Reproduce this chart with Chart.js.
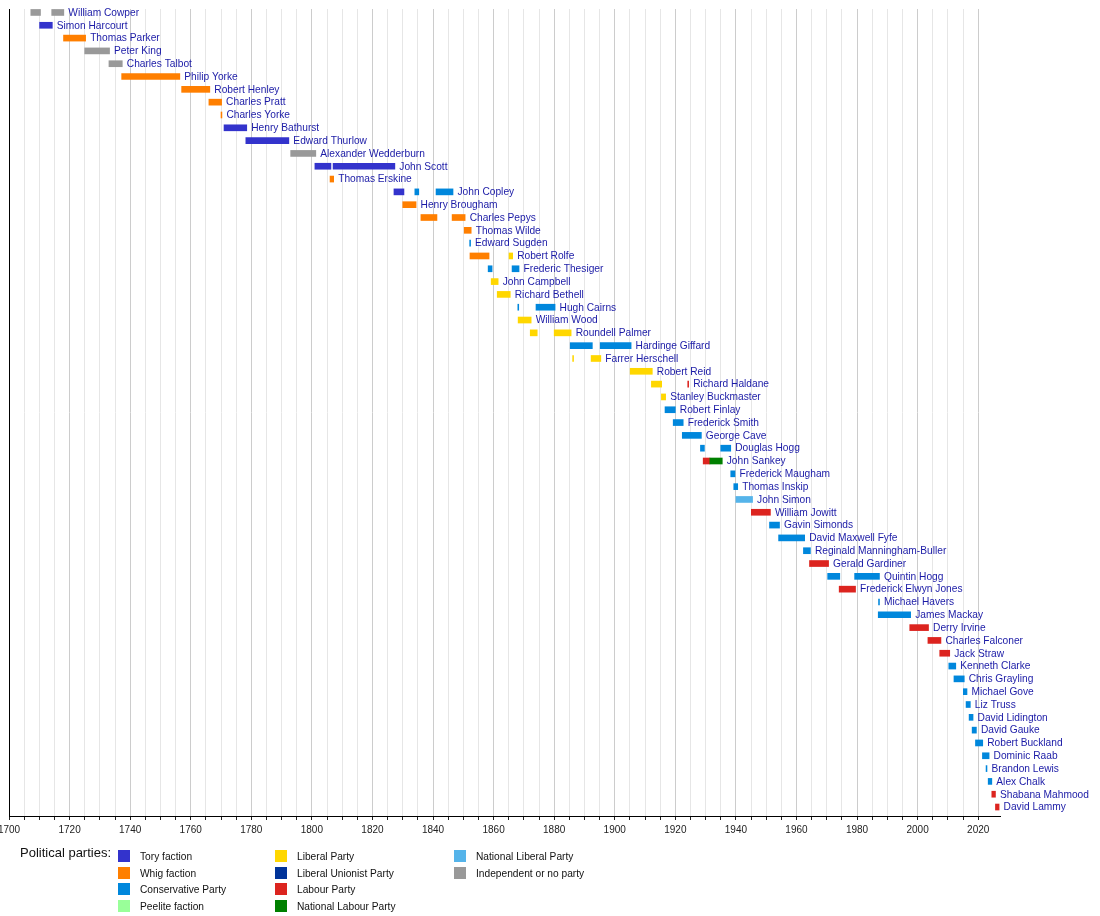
<!DOCTYPE html>
<html>
<head>
<meta charset="utf-8">
<script src="https://cdn.jsdelivr.net/npm/chart.js@4.4.1/dist/chart.umd.min.js"></script>
<style>
  body { margin: 0; background: #fff; }
  #wrap { position: relative; width: 1100px; height: 916px; font-family: "Liberation Sans", Arial, sans-serif; }
  #chart { position: absolute; left: 0; top: 0; }
  .lg-title { position: absolute; left: 20px; top: 845px; font-size: 13px; color: #111; }
  .lg-item { position: absolute; font-size: 10.2px; color: #111; height: 12px; line-height: 12px; white-space: nowrap; }
  .lg-item span { position: absolute; left: 0; top: 0; width: 12px; height: 12px; }
  .lg-item b { font-weight: normal; position: absolute; left: 22px; top: 1px; }
</style>
</head>
<body>
<div id="wrap">
  <canvas id="chart" width="1100" height="916"></canvas>
  <div class="lg-title">Political parties:</div>
  <div id="legend"></div>
</div>
<script>
// 이름 (위에서 아래로)
const names = [
  "William Cowper", "Simon Harcourt", "Thomas Parker", "Peter King", "Charles Talbot",
  "Philip Yorke", "Robert Henley", "Charles Pratt", "Charles Yorke", "Henry Bathurst",
  "Edward Thurlow", "Alexander Wedderburn", "John Scott", "Thomas Erskine", "John Copley",
  "Henry Brougham", "Charles Pepys", "Thomas Wilde", "Edward Sugden", "Robert Rolfe",
  "Frederic Thesiger", "John Campbell", "Richard Bethell", "Hugh Cairns", "William Wood",
  "Roundell Palmer", "Hardinge Giffard", "Farrer Herschell", "Robert Reid", "Richard Haldane",
  "Stanley Buckmaster", "Robert Finlay", "Frederick Smith", "George Cave", "Douglas Hogg",
  "John Sankey", "Frederick Maugham", "Thomas Inskip", "John Simon", "William Jowitt",
  "Gavin Simonds", "David Maxwell Fyfe", "Reginald Manningham-Buller", "Gerald Gardiner", "Quintin Hogg",
  "Frederick Elwyn Jones", "Michael Havers", "James Mackay", "Derry Irvine", "Charles Falconer",
  "Jack Straw", "Kenneth Clarke", "Chris Grayling", "Michael Gove", "Liz Truss",
  "David Lidington", "David Gauke", "Robert Buckland", "Dominic Raab", "Brandon Lewis",
  "Alex Chalk", "Shabana Mahmood", "David Lammy"
];

// 재임 기간 [시작, 끝, 정당] (행마다)
const terms = [
  [[1707.2, 1710.4, "I"], [1714.1, 1718.1, "I"]],
  [[1710.1, 1714.3, "T"]],
  [[1718.0, 1725.3, "W"]],
  [[1725.0, 1733.2, "I"]],
  [[1733.0, 1737.4, "I"]],
  [[1737.2, 1756.4, "W"]],
  [[1757.0, 1766.3, "W"]],
  [[1766.0, 1770.2, "W"]],
  [[1770.0, 1770.3, "W"]],
  [[1771.0, 1778.5, "T"]],
  [[1778.2, 1792.4, "T"]],
  [[1793.0, 1801.3, "I"]],
  [[1801.0, 1806.3, "T"], [1807.0, 1827.4, "T"]],
  [[1806.0, 1807.2, "W"]],
  [[1827.1, 1830.4, "T"], [1834.0, 1835.3, "C"], [1841.0, 1846.6, "C"]],
  [[1830.0, 1834.4, "W"]],
  [[1836.0, 1841.3, "W"], [1846.3, 1850.6, "W"]],
  [[1850.3, 1852.6, "W"]],
  [[1852.1, 1852.4, "C"]],
  [[1852.2, 1858.5, "W"], [1865.1, 1866.3, "L"]],
  [[1858.2, 1859.5, "C"], [1866.1, 1868.4, "C"]],
  [[1859.2, 1861.5, "L"]],
  [[1861.2, 1865.5, "L"]],
  [[1868.0, 1868.3, "C"], [1874.0, 1880.3, "C"]],
  [[1868.1, 1872.4, "L"]],
  [[1872.1, 1874.4, "L"], [1880.0, 1885.6, "L"]],
  [[1885.3, 1892.6, "C"], [1895.2, 1905.4, "C"]],
  [[1886.1, 1886.4, "L"], [1892.2, 1895.4, "L"]],
  [[1905.1, 1912.4, "L"]],
  [[1912.1, 1915.5, "L"], [1924.1, 1924.4, "Lab"]],
  [[1915.4, 1916.8, "L"]],
  [[1916.6, 1920.0, "C"]],
  [[1919.3, 1922.6, "C"]],
  [[1922.3, 1928.6, "C"]],
  [[1928.3, 1929.6, "C"], [1935.0, 1938.3, "C"]],
  [[1929.2, 1931.4, "Lab"], [1931.4, 1935.5, "NLab"]],
  [[1938.3, 1939.7, "C"]],
  [[1939.3, 1940.6, "C"]],
  [[1940.0, 1945.5, "NLib"]],
  [[1945.1, 1951.4, "Lab"]],
  [[1951.1, 1954.4, "C"]],
  [[1954.1, 1962.7, "C"]],
  [[1962.3, 1964.6, "C"]],
  [[1964.3, 1970.6, "Lab"]],
  [[1970.3, 1974.3, "C"], [1979.2, 1987.4, "C"]],
  [[1974.1, 1979.5, "Lab"]],
  [[1987.1, 1987.4, "C"]],
  [[1987.0, 1997.7, "C"]],
  [[1997.4, 2003.6, "Lab"]],
  [[2003.4, 2007.7, "Lab"]],
  [[2007.3, 2010.6, "Lab"]],
  [[2010.3, 2012.6, "C"]],
  [[2012.0, 2015.4, "C"]],
  [[2015.1, 2016.3, "C"]],
  [[2016.0, 2017.4, "C"]],
  [[2017.0, 2018.3, "C"]],
  [[2018.0, 2019.4, "C"]],
  [[2019.1, 2021.5, "C"]],
  [[2021.4, 2023.6, "C"]],
  [[2022.6, 2022.9, "C"]],
  [[2023.3, 2024.5, "C"]],
  [[2024.5, 2025.7, "Lab"]],
  [[2025.7, 2026.9, "Lab"]]
];

// 정당 / 색상
const partyCodes = ["T", "W", "C", "P", "L", "LU", "Lab", "NLab", "NLib", "I"];
const partyNames = ["Tory faction", "Whig faction", "Conservative Party", "Peelite faction",
  "Liberal Party", "Liberal Unionist Party", "Labour Party", "National Labour Party",
  "National Liberal Party", "Independent or no party"];
const partyColors = ["#3333CC", "#FF7F00", "#0087DC", "#99FF99",
  "#FFD700", "#003399", "#DC241F", "#008000", "#55B4EA", "#999999"];

// x축 범위
const yearMin = 1700;
const yearMax = 2027.2;

const colorOf = code => partyColors[partyCodes.indexOf(code)];

// 막대 데이터
const points = [];
const colors = [];
terms.forEach((row, i) => {
  row.forEach(t => {
    points.push({ x: [t[0], t[1]], y: i });
    colors.push(colorOf(t[2]));
  });
});

const labelFont = '10.2px "Liberation Sans", Arial, sans-serif';

// 이름 라벨 플러그인
const nameLabels = {
  id: "nameLabels",
  afterDatasetsDraw(chart) {
    const ctx = chart.ctx;
    const xs = chart.scales.x;
    const ys = chart.scales.y;
    ctx.save();
    ctx.font = labelFont;
    ctx.fillStyle = "#1a1aa6";
    ctx.textBaseline = "middle";
    ctx.textAlign = "left";
    terms.forEach((row, i) => {
      const end = Math.max(...row.map(t => t[1]));
      ctx.fillText(names[i], xs.getPixelForValue(end) + 4.5, ys.getPixelForValue(i) + 0.5);
    });
    ctx.restore();
  }
};

const config = {
  type: "bar",
  data: {
    datasets: [{
      data: points,
      backgroundColor: colors,
      borderWidth: 0,
      barThickness: 6,
      grouped: false
    }]
  },
  options: {
    indexAxis: "y",
    responsive: false,
    animation: false,
    layout: { padding: { left: 9, top: 9, right: 100, bottom: 80 } },
    scales: {
      x: {
        type: "linear",
        position: "bottom",
        min: yearMin,
        max: yearMax,
        offset: false,
        afterBuildTicks: s => { s.ticks = s.ticks.filter(t => Math.abs(t.value % 5) < 1e-6); },
        afterFit: s => { s.height = 20; s.paddingLeft = 0; s.paddingRight = 0; },
        ticks: {
          stepSize: 5,
          autoSkip: false,
          maxRotation: 0,
          padding: 4,
          color: "#222",
          font: { family: '"Liberation Sans", Arial, sans-serif', size: 10 },
          callback: v => (v % 20 === 0 ? String(v) : "")
        },
        grid: {
          offset: false,
          color: c => (c.tick && c.tick.value % 20 === 0 ? "#cccccc" : "#e6e6e6"),
          tickColor: "#222",
          tickLength: 4,
          lineWidth: 1
        },
        border: { display: true, color: "#000", width: 1 }
      },
      y: {
        type: "linear",
        reverse: true,
        offset: false,
        min: -0.27,
        max: 62.7,
        ticks: { display: false },
        grid: { display: false, drawTicks: false, offset: false },
        border: { display: true, color: "#000", width: 1 },
        afterFit: s => { s.width = 0; }
      }
    },
    plugins: {
      legend: { display: false },
      tooltip: { enabled: false }
    }
  },
  plugins: [nameLabels]
};

new Chart(document.getElementById("chart").getContext("2d"), config);

// 범례 (HTML)
const legendCols = [118, 275, 454];
const legendRows = 4;
const legendBox = document.getElementById("legend");
partyNames.forEach((name, k) => {
  const col = Math.floor(k / legendRows);
  const row = k % legendRows;
  const item = document.createElement("div");
  item.className = "lg-item";
  item.style.left = legendCols[col] + "px";
  item.style.top = (850 + row * 16.6) + "px";
  item.innerHTML = '<span style="background:' + partyColors[k] + '"></span><b></b>';
  item.querySelector("b").textContent = name;
  legendBox.appendChild(item);
});
</script>
</body>
</html>
